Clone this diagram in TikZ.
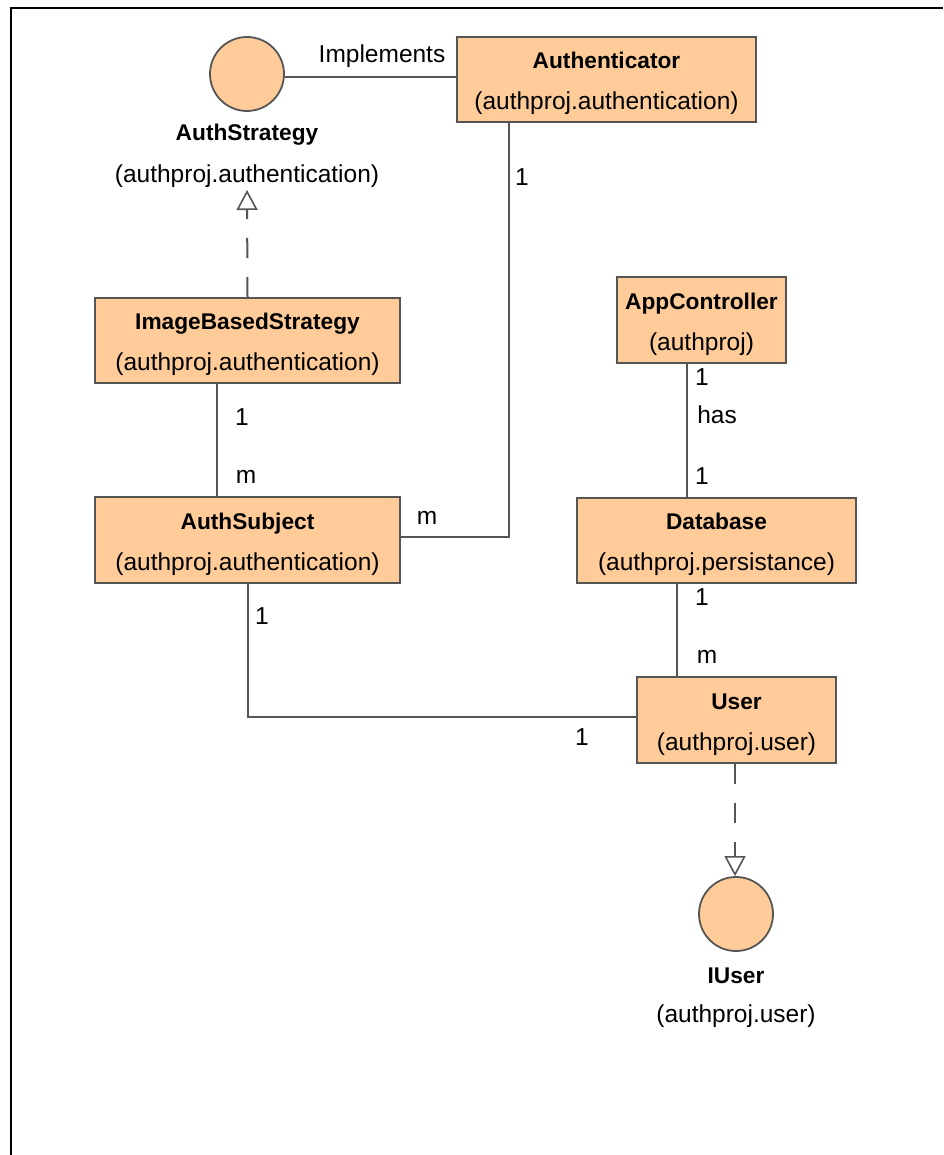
\documentclass[tikz,border=0pt]{standalone}
\usepackage{fontspec}
\setmainfont{Liberation Sans}
\usetikzlibrary{arrows.meta}
\definecolor{umlfill}{RGB}{255,204,153}
\definecolor{umlline}{RGB}{85,85,85}
\newcommand{\clsname}[1]{{\rule{0pt}{25pt}\fontsize{22.7}{41}\selectfont\bfseries #1}}
\tikzset{
  classbox/.style={draw=umlline, line width=2pt, fill=umlfill, inner sep=0pt,
    align=center, font=\fontsize{24.5}{41}\selectfont},
  iface/.style={circle, draw=umlline, line width=1.8pt, fill=umlfill, minimum size=74pt, inner sep=0pt},
  lbl/.style={font=\fontsize{24.5}{28}\selectfont, inner sep=0pt},
  blbl/.style={font=\fontsize{22.7}{28}\selectfont\bfseries, inner sep=0pt},
  assoc/.style={draw=umlline, line width=2pt},
  realize/.style={draw=umlline, line width=2pt, dash pattern=on 20pt off 19pt,
    -{Triangle[open, length=20pt, width=21pt, line width=1.6pt]}}
}
\begin{document}
\begin{tikzpicture}[x=1pt,y=-1pt]
\useasboundingbox (0,0) rectangle (943,1155);
\fill[white] (0,0) rectangle (943,1155);
\draw[line width=2.5pt] (11,1155) -- (11,8) -- (943,8);

% interfaces
\node[iface] (as) at (247,74) {};
\node[blbl] (asName) at (247,135) {AuthStrategy};
\node[lbl] (asPkg) at (247,176) {(authproj.authentication)};
\coordinate (astip) at (247,190);

\node[iface] (iu) at (736,914) {};
\node[blbl] (iuName) at (736,976) {IUser};
\node[lbl] (iuPkg) at (736,1016) {(authproj.user)};

% classes
\node[classbox, minimum width=299pt, minimum height=85pt] (auth) at (606.5,79.5)
  {\clsname{Authenticator}\\(authproj.authentication)};
\node[classbox, minimum width=305pt, minimum height=85pt] (ibs) at (247.5,340.5)
  {\clsname{ImageBasedStrategy}\\(authproj.authentication)};
\node[classbox, minimum width=305pt, minimum height=86pt] (subj) at (247.5,540)
  {\clsname{AuthSubject}\\(authproj.authentication)};
\node[classbox, minimum width=169pt, minimum height=86pt] (app) at (701.5,320)
  {\clsname{AppController}\\(authproj)};
\node[classbox, minimum width=279pt, minimum height=85pt] (db) at (716.5,540.5)
  {\clsname{Database}\\(authproj.persistance)};
\node[classbox, minimum width=199pt, minimum height=86pt] (user) at (736.5,720)
  {\clsname{User}\\(authproj.user)};

% connectors
\draw[assoc] (as.east |- 0,77) -- (auth.west |- 0,77);
\node[lbl] (implLbl) at (382,56) {Implements};

\coordinate (authDown) at ([xshift=-97.5pt]auth.south);
\coordinate (authCorner) at (authDown |- 0,537);
\draw[assoc] (authDown) -- (authCorner) -- (authCorner -| subj.east);
\node[lbl] (m1a) at (522,177) {1};
\node[lbl] (m1b) at (427,518) {m};

\coordinate (ibsDown) at ([xshift=-30.5pt]ibs.south);
\draw[assoc] (ibsDown) -- (ibsDown |- subj.north);
\node[lbl] (m2a) at (242,417) {1};
\node[lbl] (m2b) at (246,477) {m};

\draw[realize] (ibs.north) -- (astip);

\coordinate (subjDown) at (subj.south);
\coordinate (subjCorner) at (subjDown |- 0,717);
\draw[assoc] (subjDown) -- (subjCorner) -- (subjCorner -| user.west);
\node[lbl] (m3a) at (262,616) {1};
\node[lbl] (m3b) at (582,737) {1};

\coordinate (appDown) at ([xshift=-14.5pt]app.south);
\draw[assoc] (appDown) -- (appDown |- db.north);
\node[lbl] (m4a) at (702,377) {1};
\node[lbl] (hasLbl) at (717,415) {has};
\node[lbl] (m4b) at (702,476) {1};

\coordinate (dbDown) at ([xshift=-39.5pt]db.south);
\draw[assoc] (dbDown) -- (dbDown |- user.north);
\node[lbl] (m5a) at (702,597) {1};
\node[lbl] (m5b) at (707,657) {m};

\coordinate (userDown) at ([xshift=-1.5pt]user.south);
\draw[realize] (userDown) -- (userDown |- iu.north);
\end{tikzpicture}
\end{document}
